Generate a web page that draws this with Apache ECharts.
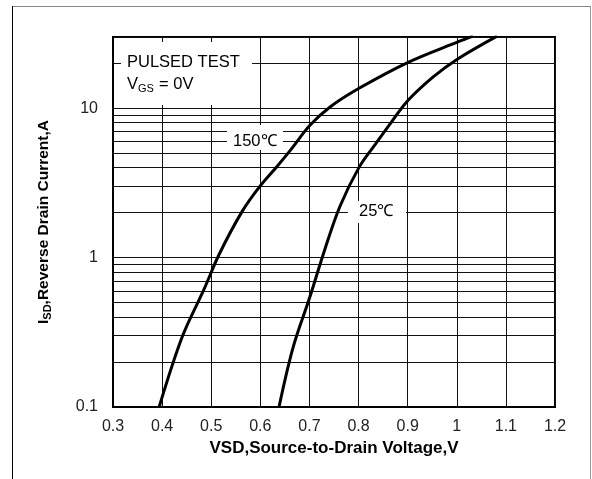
<!DOCTYPE html>
<html>
<head>
<meta charset="utf-8">
<script src="https://cdn.jsdelivr.net/npm/echarts@6/dist/echarts.min.js"></script>
<style>html,body{margin:0;padding:0;background:#fff;}#c{width:592px;height:479px;}</style>
</head>
<body>
<div id="c"></div>
<script>
// ---- data ----
const xTicks = [0.3, 0.4, 0.5, 0.6, 0.7, 0.8, 0.9, 1.0, 1.1, 1.2];
const yMajorLabels = [0.1, 1, 10];
const yMinorGrid = [0.2, 0.3, 0.4, 0.5, 0.6, 0.7, 0.8, 0.9, 2, 3, 4, 5, 6, 7, 8, 9, 20];
const v150 = [0.394, 0.441, 0.485, 0.516, 0.563, 0.599, 0.634, 0.661, 0.701, 0.742, 0.801, 0.901, 1.001, 1.033];
const i150 = [0.1, 0.295, 0.61, 1.05, 2.04, 3.0, 4.08, 5.23, 7.69, 10.2, 13.6, 20.3, 27.7, 30.4];
const v25 = [0.638, 0.667, 0.701, 0.730, 0.762, 0.801, 0.834, 0.868, 0.901, 0.952, 1.001, 1.082];
const i25 = [0.1, 0.253, 0.547, 1.10, 2.20, 4.02, 5.73, 8.18, 11.3, 16.2, 21.3, 30.4];

const FONT = 'Liberation Sans, Arial, Helvetica, sans-serif';
const chart = echarts.init(document.getElementById('c'), null, {renderer: 'canvas'});
const pair = (xs, ys) => xs.map((x, k) => [x, ys[k]]);

chart.setOption({
  animation: false,
  backgroundColor: '#fff',
  grid: {left: 113, top: 37, width: 442, height: 370, show: true, borderColor: '#000', borderWidth: 2, backgroundColor: 'transparent'},
  xAxis: {
    type: 'value', min: xTicks[0], max: xTicks[xTicks.length - 1], interval: 0.1,
    name: 'VSD,Source-to-Drain Voltage,V', nameLocation: 'middle', nameGap: 28,
    nameTextStyle: {fontFamily: FONT, fontSize: 17, fontWeight: 'bold', color: '#000'},
    axisLine: {show: true, lineStyle: {color: '#000', width: 2}},
    axisTick: {show: false},
    axisLabel: {margin: 12, fontFamily: FONT, fontSize: 16, color: '#222', formatter: v => String(Number(v.toFixed(1)))},
    splitLine: {show: true, lineStyle: {color: '#111', width: 1}}
  },
  yAxis: {
    type: 'log', logBase: 10, min: 0.1, max: 30,
    name: '{b|I}{s|SD}{b|,Reverse Drain Current,A}', nameLocation: 'middle', nameGap: 60, nameRotate: 90,
    nameTextStyle: {
      rich: {
        b: {fontFamily: FONT, fontSize: 15.5, fontWeight: 'bold', color: '#000', lineHeight: 18},
        s: {fontFamily: FONT, fontSize: 11, fontWeight: 'bold', color: '#000', lineHeight: 18, padding: [7, 0, 0, 0]}
      }
    },
    axisLine: {show: true, lineStyle: {color: '#000', width: 2}},
    axisTick: {show: false},
    axisLabel: {
      margin: 15, fontFamily: FONT, fontSize: 16, color: '#222',
      formatter: v => {
        const m = yMajorLabels.find(t => Math.abs(v - t) / t < 1e-6);
        return m === undefined ? '' : String(m);
      }
    },
    splitLine: {show: true, lineStyle: {color: '#111', width: 1}}
  },
  series: [
    {
      type: 'line', name: 'grid', data: [], z: 0, silent: true,
      markLine: {
        silent: true, symbol: ['none', 'none'], label: {show: false}, animation: false,
        lineStyle: {color: '#111', width: 1, type: 'solid'},
        emphasis: {disabled: true},
        data: yMinorGrid.map(v => ({yAxis: v}))
      }
    },
    {type: 'line', name: '150°C', data: pair(v150, i150), showSymbol: false, smooth: 0.35, lineStyle: {color: '#000', width: 3}, z: 5},
    {type: 'line', name: '25°C', data: pair(v25, i25), showSymbol: false, smooth: 0.35, lineStyle: {color: '#000', width: 3}, z: 5}
  ],
  graphic: [
    {type: 'line', z: 50, shape: {x1: 12, y1: 6.5, x2: 590, y2: 6.5}, style: {stroke: '#888', lineWidth: 1}},
    {type: 'line', z: 50, shape: {x1: 12.5, y1: 6, x2: 12.5, y2: 479}, style: {stroke: '#000', lineWidth: 1}},
    {type: 'line', z: 50, shape: {x1: 590.5, y1: 6, x2: 590.5, y2: 479}, style: {stroke: '#999', lineWidth: 1}},
    {type: 'rect', z: 50, shape: {x: 121, y: 42, width: 131, height: 63}, style: {fill: '#fff'}},
    {type: 'text', z: 51, x: 127, y: 54, style: {text: 'PULSED TEST', font: '16.5px ' + FONT, fill: '#000'}},
    {type: 'text', z: 51, x: 127, y: 76, style: {text: 'V', font: '16.5px ' + FONT, fill: '#000'}},
    {type: 'text', z: 51, x: 138, y: 83, style: {text: 'GS', font: '11px ' + FONT, fill: '#000'}},
    {type: 'text', z: 51, x: 159, y: 76, style: {text: '= 0V', font: '16.5px ' + FONT, fill: '#000'}},
    {type: 'rect', z: 50, shape: {x: 227, y: 125, width: 56, height: 25}, style: {fill: '#fff'}},
    {type: 'text', z: 51, x: 233, y: 133, style: {text: '150℃', font: '16.5px ' + FONT, fill: '#000'}},
    {type: 'rect', z: 50, shape: {x: 348, y: 201, width: 58, height: 22}, style: {fill: '#fff'}},
    {type: 'text', z: 51, x: 359, y: 203, style: {text: '25℃', font: '16.5px ' + FONT, fill: '#000'}}
  ]
});
</script>
</body>
</html>
